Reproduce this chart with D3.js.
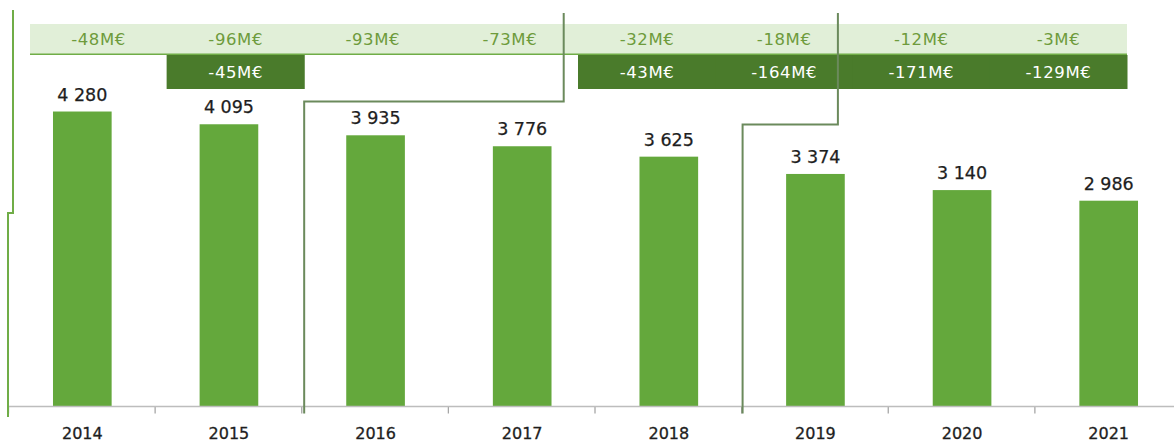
<!DOCTYPE html>
<html>
<head>
<meta charset="utf-8">
<script src="https://cdn.jsdelivr.net/npm/d3@7"></script>
<style>
  html, body { margin: 0; padding: 0; background: #fff; }
  svg { display: block; }
</style>
</head>
<body>
<div id="chart"></div>
<script>
// Bars: yearly values with savings table above
const years = ["2014", "2015", "2016", "2017", "2018", "2019", "2020", "2021"];
const values = [4280, 4095, 3935, 3776, 3625, 3374, 3140, 2986];
const valueLabels = ["4 280", "4 095", "3 935", "3 776", "3 625", "3 374", "3 140", "2 986"];
const lightRow = ["-48M€", "-96M€", "-93M€", "-73M€", "-32M€", "-18M€", "-12M€", "-3M€"];
const darkRow = [null, "-45M€", null, null, "-43M€", "-164M€", "-171M€", "-129M€"];
// connector brackets: start boundary (band index), end position (band index), level (value units)
const brackets = [
  {from: 2.02, to: 3.79, level: 4425},
  {from: 5.01, to: 5.66, level: 4090}
];

const width = 1174, height = 443;
const plot = {left: 8, right: 1181, base: 406.5};
const fontFamily = "'DejaVu Sans', Verdana, sans-serif";
const barColor = "#64a83c", darkBand = "#4a7b2b", lightBand = "#e1efd8";
const lightText = "#6e9b3c", lineColor = "#70ad47", bracketColor = "#6b8a5c";

const svg = d3.select("#chart").append("svg")
  .attr("width", width).attr("height", height).attr("viewBox", `0 0 ${width} ${height}`);

const x = d3.scaleBand().domain(years).range([plot.left, plot.right])
  .paddingInner(0.6).paddingOuter(0.3);
const xIdx = d3.scaleLinear().domain([0, years.length]).range([plot.left, plot.right]);
const y = d3.scaleLinear().domain([0, 5898]).range([plot.base, 0]);
const col = d3.scaleBand().domain(years).range([30, 1127]);

// table rows
const rowLight = {top: 24, h: 31}, rowDark = {top: 55, h: 34};
svg.append("rect").attr("x", col.range()[0]).attr("y", rowLight.top)
  .attr("width", col.range()[1] - col.range()[0]).attr("height", rowLight.h).attr("fill", lightBand);
svg.append("line").attr("x1", col.range()[0]).attr("x2", col.range()[1])
  .attr("y1", rowLight.top + rowLight.h - 0.75).attr("y2", rowLight.top + rowLight.h - 0.75)
  .attr("stroke", lineColor).attr("stroke-width", 1.5);
svg.selectAll(".light-lbl").data(lightRow).join("text").attr("class", "light-lbl")
  .attr("x", (d, i) => col(years[i]) + col.bandwidth() / 2).attr("y", rowLight.top + rowLight.h / 2)
  .attr("dy", "0.36em").attr("text-anchor", "middle").attr("font-family", fontFamily)
  .attr("font-size", 16.5).attr("letter-spacing", 0.6).attr("fill", lightText).text(d => d);

const darkData = darkRow.map((d, i) => ({year: years[i], label: d})).filter(d => d.label);
svg.selectAll(".dark-cell").data(darkData).join("rect").attr("class", "dark-cell")
  .attr("x", d => col(d.year) - 0.5).attr("y", rowDark.top)
  .attr("width", col.bandwidth() + 1).attr("height", rowDark.h).attr("fill", darkBand);
svg.selectAll(".dark-lbl").data(darkData).join("text").attr("class", "dark-lbl")
  .attr("x", d => col(d.year) + col.bandwidth() / 2).attr("y", rowDark.top + rowDark.h / 2)
  .attr("dy", "0.36em").attr("text-anchor", "middle").attr("font-family", fontFamily)
  .attr("font-size", 16.5).attr("letter-spacing", 0.6).attr("fill", "#fff").text(d => d.label);

// bars
svg.selectAll(".bar").data(values).join("rect").attr("class", "bar")
  .attr("x", (d, i) => x(years[i]) + 1).attr("width", x.bandwidth())
  .attr("y", d => y(d)).attr("height", d => y(0) - y(d)).attr("fill", barColor);
svg.selectAll(".val").data(values).join("text").attr("class", "val")
  .attr("x", (d, i) => x(years[i]) + 1 + x.bandwidth() / 2).attr("y", d => y(d) - 11)
  .attr("text-anchor", "middle").attr("font-family", fontFamily).attr("font-size", 17.5)
  .attr("fill", "#1e1e1e").attr("stroke", "#1e1e1e").attr("stroke-width", 0.25)
  .text((d, i) => valueLabels[i]);

// axis: boundary ticks + year labels
const tickAxis = svg.append("g").attr("transform", `translate(0,${plot.base})`)
  .call(d3.axisBottom(xIdx).tickValues(d3.range(0, years.length + 1)).tickSize(7).tickFormat(""));
tickAxis.select(".domain").remove();
tickAxis.selectAll("line").attr("stroke", "#a6a6a6").attr("stroke-width", 1.3);
svg.append("line").attr("x1", plot.left).attr("x2", width).attr("y1", plot.base).attr("y2", plot.base)
  .attr("stroke", "#bdbdbd").attr("stroke-width", 1.5);
const labelAxis = svg.append("g").attr("transform", `translate(0,${plot.base})`)
  .call(d3.axisBottom(x).tickSize(0).tickPadding(21));
labelAxis.select(".domain").remove();
labelAxis.selectAll("text").attr("font-family", fontFamily).attr("font-size", 16)
  .attr("fill", "#1e1e1e").attr("stroke", "#1e1e1e").attr("stroke-width", 0.3)
  .attr("transform", "translate(1,0)");

// left frame line
const leftPath = d3.path();
leftPath.moveTo(xIdx(0) + 5, 10);
leftPath.lineTo(xIdx(0) + 5, 213);
leftPath.lineTo(xIdx(0), 213);
leftPath.lineTo(xIdx(0), 417);
svg.append("path").attr("d", leftPath.toString()).attr("fill", "none")
  .attr("stroke", lineColor).attr("stroke-width", 2);

// connector brackets
brackets.forEach(b => {
  const p = d3.path();
  p.moveTo(xIdx(b.from), plot.base + 7);
  p.lineTo(xIdx(b.from), y(b.level));
  p.lineTo(xIdx(b.to), y(b.level));
  p.lineTo(xIdx(b.to), 13);
  svg.append("path").attr("d", p.toString()).attr("fill", "none")
    .attr("stroke", bracketColor).attr("stroke-width", 2);
});
</script>
</body>
</html>
